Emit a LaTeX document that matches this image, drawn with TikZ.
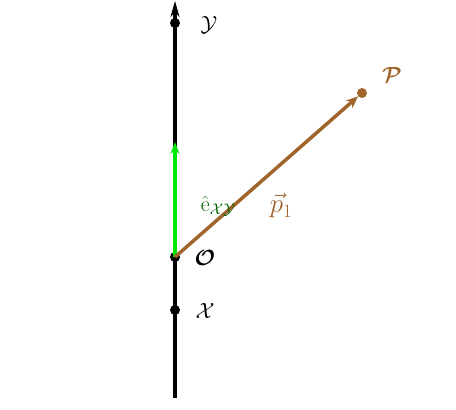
\documentclass[tikz,border=0pt]{standalone}
\usepackage{fix-cm}
\usepackage{amsmath}
\usetikzlibrary{arrows.meta}
\definecolor{pbrown}{RGB}{160,100,45}
\definecolor{egreen}{RGB}{0,230,0}
\definecolor{dgreen}{RGB}{0,100,0}
\tikzset{
  dotnode/.style={circle,fill=#1,inner sep=0pt,minimum size=10pt},
  lbl/.style={inner sep=0pt,font=\fontsize{22}{24}\selectfont},
  biglbl/.style={inner sep=0pt,font=\fontsize{27}{29}\selectfont},
  axisline/.style={line width=3.5pt,black},
}
\begin{document}
\begin{tikzpicture}[x=1pt,y=1pt]
\useasboundingbox (0,0) rectangle (456,410);
\coordinate (bot) at (175,12);
\coordinate (top) at (175,409);
\node[dotnode=black] (O) at (175,153) {};
\node[dotnode=black] (Y) at (175,387) {};
\node[dotnode=black] (X) at (175,100) {};
\node[dotnode=pbrown] (P) at (362,317) {};
\coordinate (g) at (175,268);
\draw[axisline,-{Stealth[length=16pt,width=9pt]}] (bot) -- (top);
\draw[line width=3.5pt,egreen,-{Stealth[length=12pt,width=9pt]}] (O.center) -- (g);
\draw[line width=3.5pt,pbrown,-{Stealth[length=12pt,width=10pt]}] (O.center) -- (P);
\node[lbl] (Ylbl) at (209,385) {$\mathcal{Y}$};
\node[lbl] (Olbl) at (205,152) {$\boldsymbol{\mathcal{O}}$};
\node[lbl] (Xlbl) at (205,99) {$\mathcal{X}$};
\node[lbl,text=pbrown] (Plbl) at (392,335) {$\boldsymbol{\mathcal{P}}$};
\node[lbl,text=dgreen] (elbl) at (218,204) {$\hat{\mathrm{e}}_{\mathcal{XY}}$};
\node[biglbl,text=pbrown] (plbl) at (281,204) {$\vec{p}_1$};
\end{tikzpicture}
\end{document}
